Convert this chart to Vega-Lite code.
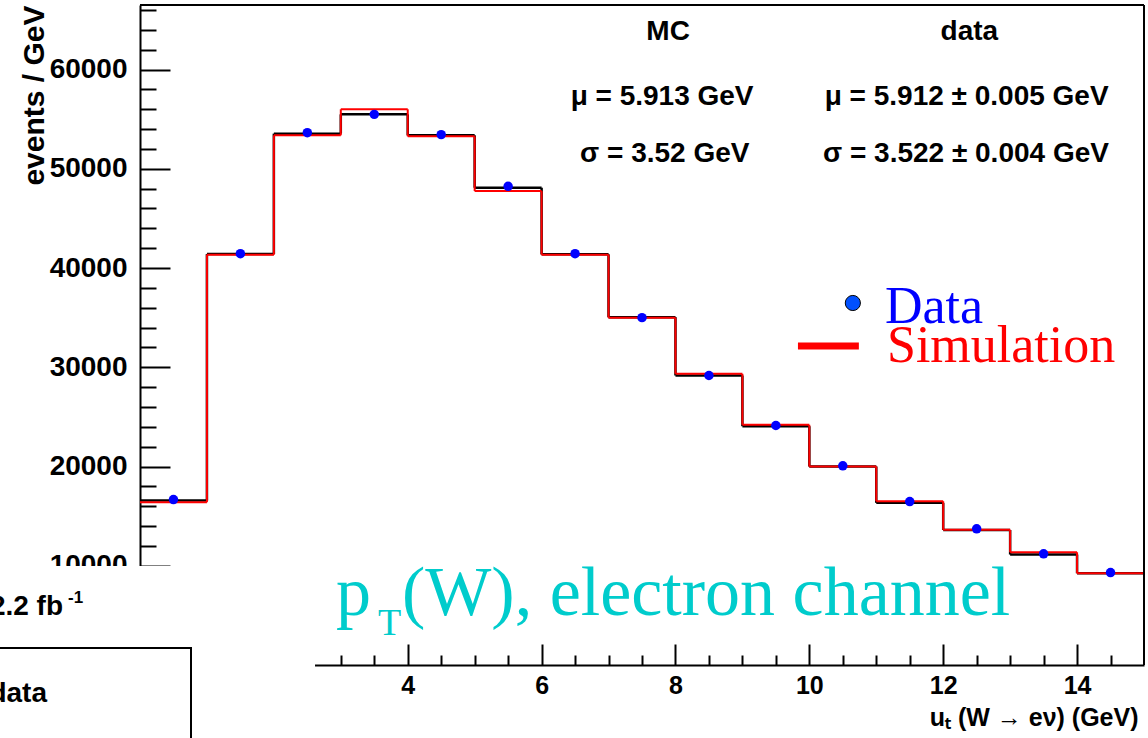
{
  "$schema": "https://vega.github.io/schema/vega-lite/v6.json",
  "width": 1004,
  "height": 660,
  "autosize": {"type": "none"},
  "padding": {"left": 140, "top": 5, "right": 4, "bottom": 73},
  "background": "white",
  "config": {"view": {"stroke": null}, "font": "Liberation Sans"},
  "resolve": {"axis": {"x": "independent", "y": "independent"}},
  "datasets": {
    "hist": [
      {"lo": 0, "hi": 1, "u": 0.5, "data": 16670, "sim": 16400, "mc": 16570},
      {"lo": 1, "hi": 2, "u": 1.5, "data": 41440, "sim": 41340, "mc": 41400},
      {"lo": 2, "hi": 3, "u": 2.5, "data": 53640, "sim": 53370, "mc": 53540},
      {"lo": 3, "hi": 4, "u": 3.5, "data": 55480, "sim": 55990, "mc": 55480},
      {"lo": 4, "hi": 5, "u": 4.5, "data": 53440, "sim": 53270, "mc": 53370},
      {"lo": 5, "hi": 6, "u": 5.5, "data": 48230, "sim": 47750, "mc": 48090},
      {"lo": 6, "hi": 7, "u": 6.5, "data": 41440, "sim": 41340, "mc": 41380},
      {"lo": 7, "hi": 8, "u": 7.5, "data": 35000, "sim": 34990, "mc": 35050},
      {"lo": 8, "hi": 9, "u": 8.5, "data": 29170, "sim": 29340, "mc": 29170},
      {"lo": 9, "hi": 10, "u": 9.5, "data": 24130, "sim": 24200, "mc": 24060},
      {"lo": 10, "hi": 11, "u": 10.5, "data": 20070, "sim": 20000, "mc": 20000},
      {"lo": 11, "hi": 12, "u": 11.5, "data": 16470, "sim": 16500, "mc": 16340},
      {"lo": 12, "hi": 13, "u": 12.5, "data": 13720, "sim": 13620, "mc": 13600},
      {"lo": 13, "hi": 14, "u": 13.5, "data": 11200, "sim": 11360, "mc": 11130},
      {"lo": 14, "hi": 15, "u": 14.5, "data": 9310, "sim": 9240, "mc": 9240}
    ]
  },
  "data": {"name": "hist"},
  "layer": [
    {
      "mark": {"type": "rule", "color": "black", "strokeWidth": 2.5},
      "encoding": {
        "x": {
          "field": "lo", "type": "quantitative",
          "scale": {"domain": [0, 15], "nice": false, "zero": false},
          "axis": {
            "orient": "bottom",
            "title": "uₜ (W → eν) (GeV)",
            "values": [0, 2, 4, 6, 8, 10, 12, 14],
            "format": "d",
            "ticks": false,
            "domainColor": "black", "domainWidth": 2,
            "grid": false,
            "labelFont": "Liberation Sans", "labelFontWeight": "bold", "labelFontSize": 25, "labelColor": "black",
            "labelPadding": 8, "labelFlush": false, "labelOverlap": false,
            "titleFont": "Liberation Sans", "titleFontWeight": "bold", "titleFontSize": 25, "titleColor": "black",
            "titleX": 998, "titleY": 60, "titleAlign": "right", "titleAnchor": "end", "titleBaseline": "alphabetic"
          }
        },
        "x2": {"field": "hi"},
        "y": {
          "field": "mc", "type": "quantitative",
          "scale": {"domain": [0, 66500], "nice": false, "zero": false},
          "axis": {
            "orient": "left",
            "title": "events / GeV",
            "values": [0, 10000, 20000, 30000, 40000, 50000, 60000],
            "format": "d",
            "ticks": false,
            "domainColor": "black", "domainWidth": 2,
            "grid": false,
            "labelFont": "Liberation Sans", "labelFontWeight": "bold", "labelFontSize": 28, "labelColor": "black",
            "labelPadding": 13, "labelFlush": false, "labelOverlap": false,
            "titleFont": "Liberation Sans", "titleFontWeight": "bold", "titleFontSize": 30, "titleColor": "black",
            "titleX": -97, "titleY": 0, "titleAngle": -90, "titleAlign": "right", "titleBaseline": "alphabetic"
          }
        }
      }
    },
    {
      "transform": [
        {"window": [{"op": "lead", "field": "mc", "as": "mc_next"}], "sort": [{"field": "lo"}]},
        {"filter": "datum.mc_next != null"}
      ],
      "mark": {"type": "rule", "color": "black", "strokeWidth": 2.5},
      "encoding": {
        "x": {
          "field": "hi", "type": "quantitative",
          "axis": {
            "orient": "bottom", "title": null, "labels": false, "domain": false, "grid": false,
            "values": [0.5, 1, 1.5, 2.5, 3, 3.5, 4.5, 5, 5.5, 6.5, 7, 7.5, 8.5, 9, 9.5, 10.5, 11, 11.5, 12.5, 13, 13.5, 14.5],
            "tickSize": -10, "tickColor": "black", "tickWidth": 2
          }
        },
        "y": {
          "field": "mc", "type": "quantitative",
          "axis": {
            "orient": "left", "title": null, "labels": false, "domain": false, "grid": false,
            "values": [2000, 4000, 6000, 8000, 12000, 14000, 16000, 18000, 22000, 24000, 26000, 28000, 32000, 34000, 36000, 38000, 42000, 44000, 46000, 48000, 52000, 54000, 56000, 58000, 62000, 64000, 66000],
            "tickSize": -16, "tickColor": "black", "tickWidth": 2
          }
        },
        "y2": {"field": "mc_next"}
      }
    },
    {
      "mark": {"type": "rule", "color": "#ff0000", "strokeWidth": 2},
      "encoding": {
        "x": {
          "field": "lo", "type": "quantitative",
          "axis": {
            "orient": "bottom", "title": null, "labels": false, "domain": false, "grid": false,
            "values": [0, 2, 4, 6, 8, 10, 12, 14],
            "tickSize": -21, "tickColor": "black", "tickWidth": 2
          }
        },
        "x2": {"field": "hi"},
        "y": {
          "field": "sim", "type": "quantitative",
          "axis": {
            "orient": "left", "title": null, "labels": false, "domain": false, "grid": false,
            "values": [0, 10000, 20000, 30000, 40000, 50000, 60000],
            "tickSize": -30, "tickColor": "black", "tickWidth": 2
          }
        }
      }
    },
    {
      "transform": [
        {"window": [{"op": "lead", "field": "sim", "as": "sim_next"}], "sort": [{"field": "lo"}]},
        {"filter": "datum.sim_next != null"}
      ],
      "mark": {"type": "rule", "color": "#ff0000", "strokeWidth": 2},
      "encoding": {
        "x": {"field": "hi", "type": "quantitative", "axis": null},
        "y": {"field": "sim", "type": "quantitative", "axis": null},
        "y2": {"field": "sim_next"}
      }
    },
    {
      "mark": {"type": "point", "filled": true, "color": "#0000ff", "size": 90, "opacity": 1},
      "encoding": {
        "x": {"field": "u", "type": "quantitative", "axis": null},
        "y": {"field": "data", "type": "quantitative", "axis": null}
      }
    },
    {
      "data": {"values": [{}]},
      "mark": {"type": "rect", "fill": "white"},
      "encoding": {
        "x": {"datum": -2.2, "type": "quantitative", "axis": null},
        "x2": {"datum": 2.615},
        "y": {"datum": 9976, "type": "quantitative", "axis": null},
        "y2": {"datum": -9000}
      }
    },
    {
      "data": {"values": [{}]},
      "mark": {"type": "rect", "fill": "white", "fillOpacity": 0, "stroke": "black", "strokeWidth": 2},
      "encoding": {
        "x": {"datum": -2.5, "type": "quantitative", "axis": null},
        "x2": {"datum": 0.762},
        "y": {"datum": 1714, "type": "quantitative", "axis": null},
        "y2": {"datum": -9000}
      }
    },
    {
      "data": {"values": [{}]},
      "mark": {"type": "text", "text": "2.2 fb", "font": "Liberation Sans", "fontWeight": "bold", "fontSize": 28, "align": "right", "baseline": "alphabetic", "color": "black"},
      "encoding": {"x": {"datum": -1.15, "type": "quantitative", "axis": null}, "y": {"datum": 5039, "type": "quantitative", "axis": null}}
    },
    {
      "data": {"values": [{}]},
      "mark": {"type": "text", "text": "-1", "font": "Liberation Sans", "fontWeight": "bold", "fontSize": 17, "align": "left", "baseline": "alphabetic", "color": "black"},
      "encoding": {"x": {"datum": -1.076, "type": "quantitative", "axis": null}, "y": {"datum": 6248, "type": "quantitative", "axis": null}}
    },
    {
      "data": {"values": [{}]},
      "mark": {"type": "text", "text": "data", "font": "Liberation Sans", "fontWeight": "bold", "fontSize": 28, "align": "right", "baseline": "alphabetic", "color": "black"},
      "encoding": {"x": {"datum": -1.39, "type": "quantitative", "axis": null}, "y": {"datum": -3727, "type": "quantitative", "axis": null}}
    },
    {
      "data": {"values": [{}]},
      "mark": {"type": "text", "text": "p", "font": "Liberation Serif", "fontSize": 70, "align": "left", "baseline": "alphabetic", "color": "#00cccc"},
      "encoding": {"x": {"datum": 2.93, "type": "quantitative", "axis": null}, "y": {"datum": 5039, "type": "quantitative", "axis": null}}
    },
    {
      "data": {"values": [{}]},
      "mark": {"type": "text", "text": "T", "font": "Liberation Serif", "fontSize": 38, "align": "left", "baseline": "alphabetic", "color": "#00cccc"},
      "encoding": {"x": {"datum": 3.556, "type": "quantitative", "axis": null}, "y": {"datum": 3024, "type": "quantitative", "axis": null}}
    },
    {
      "data": {"values": [{}]},
      "mark": {"type": "text", "text": "(W), electron channel", "font": "Liberation Serif", "fontSize": 70, "align": "left", "baseline": "alphabetic", "color": "#00cccc"},
      "encoding": {"x": {"datum": 3.914, "type": "quantitative", "axis": null}, "y": {"datum": 5039, "type": "quantitative", "axis": null}}
    },
    {
      "data": {"values": [{}]},
      "mark": {"type": "point", "filled": true, "fill": "#0050ff", "stroke": "black", "strokeWidth": 1, "size": 230, "opacity": 1},
      "encoding": {"x": {"datum": 10.65, "type": "quantitative", "axis": null}, "y": {"datum": 36475, "type": "quantitative", "axis": null}}
    },
    {
      "data": {"values": [{}]},
      "mark": {"type": "rule", "color": "#ff0000", "strokeWidth": 7},
      "encoding": {"x": {"datum": 9.83, "type": "quantitative", "axis": null}, "x2": {"datum": 10.74}, "y": {"datum": 32142, "type": "quantitative", "axis": null}}
    },
    {
      "data": {"values": [{}]},
      "mark": {"type": "text", "text": "Data", "font": "Liberation Serif", "fontSize": 52, "align": "left", "baseline": "alphabetic", "color": "#0000ff"},
      "encoding": {"x": {"datum": 11.13, "type": "quantitative", "axis": null}, "y": {"datum": 34460, "type": "quantitative", "axis": null}}
    },
    {
      "data": {"values": [{}]},
      "mark": {"type": "text", "text": "Simulation", "font": "Liberation Serif", "fontSize": 52, "align": "left", "baseline": "alphabetic", "color": "#ff0000"},
      "encoding": {"x": {"datum": 11.16, "type": "quantitative", "axis": null}, "y": {"datum": 30530, "type": "quantitative", "axis": null}}
    },
    {
      "data": {"values": [{}]},
      "mark": {"type": "text", "text": "MC", "font": "Liberation Sans", "fontWeight": "bold", "fontSize": 28, "align": "center", "baseline": "alphabetic", "color": "black"},
      "encoding": {"x": {"datum": 7.89, "type": "quantitative", "axis": null}, "y": {"datum": 62974, "type": "quantitative", "axis": null}}
    },
    {
      "data": {"values": [{}]},
      "mark": {"type": "text", "text": "data", "font": "Liberation Sans", "fontWeight": "bold", "fontSize": 28, "align": "center", "baseline": "alphabetic", "color": "black"},
      "encoding": {"x": {"datum": 12.39, "type": "quantitative", "axis": null}, "y": {"datum": 62974, "type": "quantitative", "axis": null}}
    },
    {
      "data": {"values": [{}]},
      "mark": {"type": "text", "text": "μ = 5.913 GeV", "font": "Liberation Sans", "fontWeight": "bold", "fontSize": 28, "align": "center", "baseline": "alphabetic", "color": "black"},
      "encoding": {"x": {"datum": 7.8, "type": "quantitative", "axis": null}, "y": {"datum": 56424, "type": "quantitative", "axis": null}}
    },
    {
      "data": {"values": [{}]},
      "mark": {"type": "text", "text": "σ = 3.52 GeV", "font": "Liberation Sans", "fontWeight": "bold", "fontSize": 28, "align": "center", "baseline": "alphabetic", "color": "black"},
      "encoding": {"x": {"datum": 7.84, "type": "quantitative", "axis": null}, "y": {"datum": 50681, "type": "quantitative", "axis": null}}
    },
    {
      "data": {"values": [{}]},
      "mark": {"type": "text", "text": "μ = 5.912 ± 0.005 GeV", "font": "Liberation Sans", "fontWeight": "bold", "fontSize": 28, "align": "center", "baseline": "alphabetic", "color": "black"},
      "encoding": {"x": {"datum": 12.35, "type": "quantitative", "axis": null}, "y": {"datum": 56424, "type": "quantitative", "axis": null}}
    },
    {
      "data": {"values": [{}]},
      "mark": {"type": "text", "text": "σ = 3.522 ± 0.004 GeV", "font": "Liberation Sans", "fontWeight": "bold", "fontSize": 28, "align": "center", "baseline": "alphabetic", "color": "black"},
      "encoding": {"x": {"datum": 12.34, "type": "quantitative", "axis": null}, "y": {"datum": 50681, "type": "quantitative", "axis": null}}
    },
    {
      "data": {"values": [{}]},
      "mark": {"type": "rule", "color": "black", "strokeWidth": 2},
      "encoding": {"x": {"datum": 0, "type": "quantitative", "axis": null}, "x2": {"datum": 15}, "y": {"datum": 66500, "type": "quantitative", "axis": null}}
    },
    {
      "data": {"values": [{}]},
      "mark": {"type": "rule", "color": "black", "strokeWidth": 2},
      "encoding": {"x": {"datum": 15, "type": "quantitative", "axis": null}, "y": {"datum": 0, "type": "quantitative", "axis": null}, "y2": {"datum": 66500}}
    }
  ]
}
